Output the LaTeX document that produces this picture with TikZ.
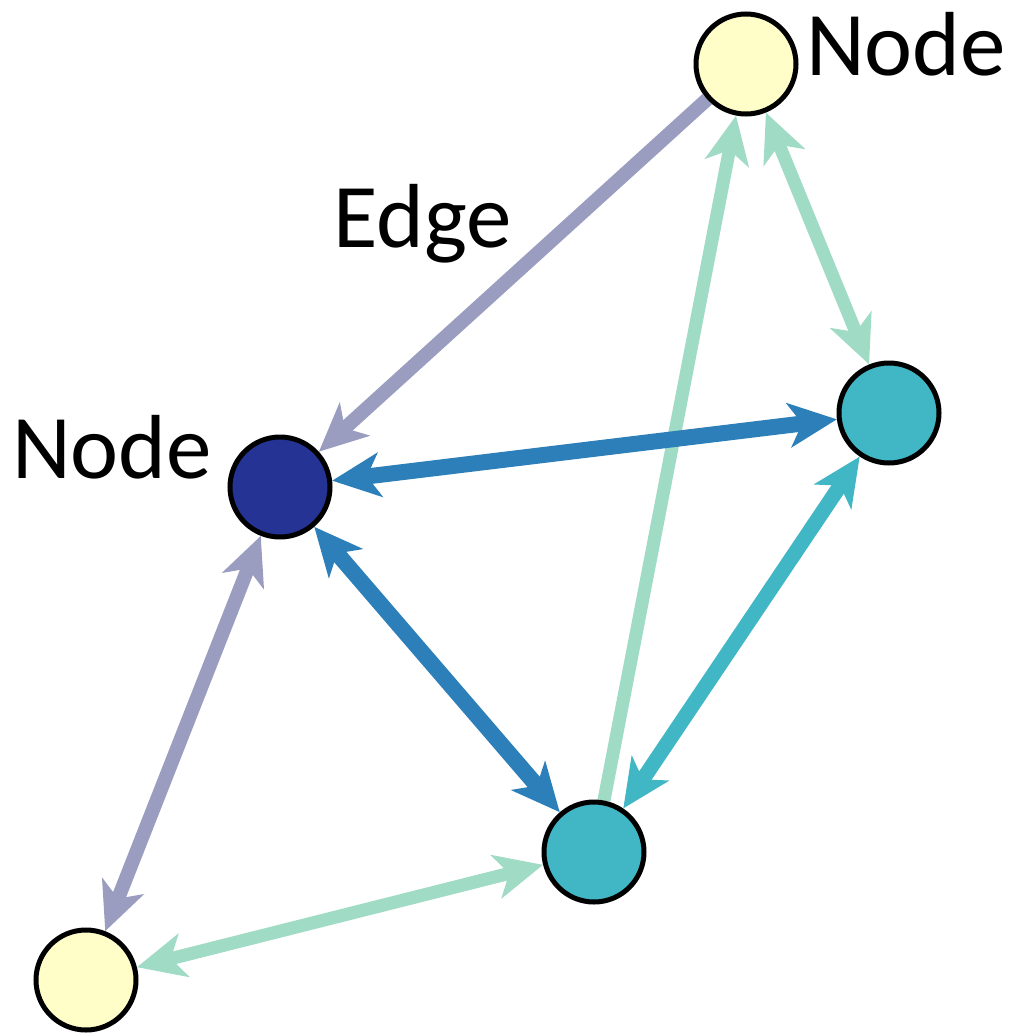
\documentclass[tikz,border=0pt]{standalone}
\usepackage{fontspec}
\setmainfont{Carlito}
\usetikzlibrary{arrows.meta,backgrounds}
\definecolor{cyell}{HTML}{FFFDC8}
\definecolor{cnavy}{HTML}{253494}
\definecolor{cteal}{HTML}{41B6C4}
\definecolor{cblue}{HTML}{2C7FB8}
\definecolor{cmint}{HTML}{A0DBC6}
\definecolor{cgray}{HTML}{9A9DBF}
\tikzset{
  vtx/.style={circle,draw=black,line width=5bp,minimum size=100bp,inner sep=0pt},
  lbl/.style={anchor=base west,inner sep=0pt,font=\fontsize{91bp}{100bp}\selectfont},
  tip/.tip={Stealth[length=48bp,width=44bp,inset=13bp]},
  grayedge/.style={draw=cgray,line width=14bp},
  blueedge/.style={draw=cblue,line width=16bp},
  mintedge/.style={draw=cmint,line width=13bp},
  tealedge/.style={draw=cteal,line width=15bp}
}
\begin{document}
\begin{tikzpicture}[x=1bp,y=-1bp]
\useasboundingbox (0,0) rectangle (1024,1034);
\node[vtx,fill=cyell] (ty) at (746,64) {};
\node[vtx,fill=cnavy] (db) at (280,487) {};
\node[vtx,fill=cteal] (rt) at (889,413) {};
\node[vtx,fill=cteal] (bt) at (594,852) {};
\node[vtx,fill=cyell] (by) at (86,980) {};
\node[lbl] (l1) at (806,75) {Node};
\node[lbl] (l2) at (12,478) {Node};
\node[lbl] (l3) at (333,247) {Edge};
\begin{pgfonlayer}{background}
\draw[mintedge,-tip] (bt) -- (ty);
\draw[mintedge,tip-tip] (ty) -- (rt);
\draw[mintedge,tip-tip] (by) -- (bt);
\draw[grayedge,-tip] (ty) -- (db);
\draw[grayedge,tip-tip] (db) -- (by);
\draw[tealedge,tip-tip] (bt) -- (rt);
\draw[blueedge,tip-tip] (db) -- (rt);
\draw[blueedge,tip-tip] (db) -- (bt);
\end{pgfonlayer}
\end{tikzpicture}
\end{document}
